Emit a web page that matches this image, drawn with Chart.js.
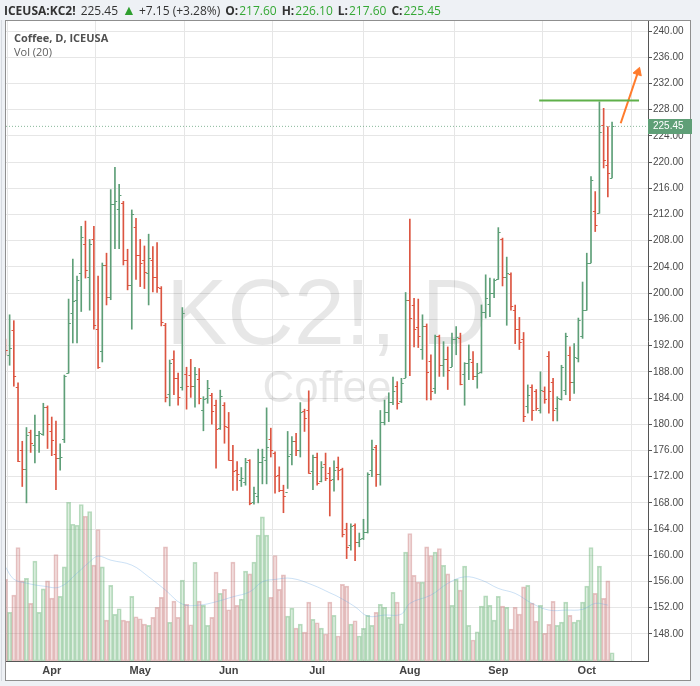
<!DOCTYPE html>
<html><head><meta charset="utf-8">
<script src="https://cdn.jsdelivr.net/npm/chart.js@4.4.1/dist/chart.umd.min.js"></script>
<style>
html,body{margin:0;padding:0;background:#eef1f5;}
canvas{display:block;}
</style></head><body>
<canvas id="c" width="700" height="686"></canvas>
<script>
// ---- data (daily bars, index 0 = Mar 17) ----
const monthIdx = [11, 32, 53, 74, 96, 117, 138];
const monthLabels = ['Apr','May','Jun','Jul','Aug','Sep','Oct'];
const yTicks = [148,152,156,160,164,168,172,176,180,184,188,192,196,200,204,208,212,216,220,224,228,232,236,240];

const opens = [192.0,190.6,194.4,185.7,176.0,173.1,178.8,176.8,178.3,178.5, 182.7,179.0,175.4,174.8,177.8,187.8,197.0,199.0,203.0,207.5, 202.4,208.2,194.5,191.2,204.3,199.4,213.6,212.9,213.8,205.1, 201.2,210.1,205.8,205.1,203.0,205.1,202.5,200.8,195.2,184.6, 190.0,187.0,185.7,187.6,187.5,185.8,186.9,182.1,184.0,184.5, 183.0,179.5,183.0,179.6,174.5,173.0,171.5,171.2,174.5,168.2, 169.1,174.3,174.5,177.8,175.6,172.3,170.0,169.6,175.4,177.5, 176.0,182.0,182.1,172.8,175.0,171.4,174.0,172.5,171.6,173.5, 173.1,164.0,161.6,164.6,162.0,162.6,163.6,173.0,176.6,172.4, 180.4,181.9,183.4,185.8,183.6,187.1,198.9,198.2,194.9,191.5, 195.0,189.7,185.5,193.4,189.0,190.0,188.8,193.0,193.2,187.7, 189.3,189.5,187.4,188.0,197.2,198.3,200.0,202.1,208.2,202.5, 202.9,197.4,194.6,193.0,182.8,185.7,185.0,182.2,185.0,190.4, 186.5,182.5,183.8,185.2,190.6,186.5,190.1,193.4,197.5,204.6, 212.6,212.3,225.7,219.6,217.6];
const highs = [193.0,196.7,195.8,186.3,177.4,179.5,179.1,181.4,178.9,183.2, 182.8,181.1,180.5,177.0,187.5,199.1,205.2,202.6,210.2,211.0, 208.2,210.2,202.6,204.6,206.1,215.8,219.2,216.6,214.0,206.7, 212.7,211.4,208.2,207.2,209.0,207.1,207.7,201.0,195.4,189.8, 191.2,187.8,197.8,188.7,189.9,188.7,188.5,184.2,186.7,184.7, 183.7,185.2,183.3,181.8,176.8,174.3,173.4,174.8,174.6,170.4, 176.2,176.2,182.5,179.4,175.8,173.5,170.7,178.9,178.1,178.6, 183.3,182.3,185.1,175.3,175.6,174.3,175.6,173.4,174.4,175.0, 173.3,164.9,164.8,164.8,163.4,165.5,172.6,177.6,176.8,182.1, 183.7,184.8,187.2,186.5,187.0,200.1,211.3,199.2,199.1,196.7, 195.3,190.6,193.6,193.6,192.6,191.8,193.9,194.9,193.9,189.4, 192.1,191.1,189.3,198.2,202.8,202.3,202.2,210.0,208.4,205.5, 203.1,198.2,196.3,194.0,186.0,186.0,185.3,188.0,185.7,191.1, 187.0,184.2,189.0,193.9,191.8,192.3,196.2,201.7,206.1,217.8, 215.5,229.2,228.2,225.4,226.1];
const lows = [190.5,189.0,185.8,174.3,170.5,168.0,175.7,174.1,175.7,178.3, 176.3,175.2,170.0,173.0,177.2,187.8,192.4,192.4,197.2,202.3, 197.4,194.5,188.5,189.5,198.2,199.0,206.8,206.8,204.3,200.5, 194.5,202.1,201.0,200.7,198.2,200.2,200.1,195.0,183.4,182.8, 184.5,182.9,185.2,182.3,184.1,182.6,183.1,179.0,183.2,180.0, 173.3,179.2,177.1,174.5,169.9,169.9,170.5,170.7,167.7,167.8, 168.0,170.9,170.9,175.0,169.5,169.7,166.5,170.2,173.8,175.2, 175.0,178.9,172.5,170.0,170.7,171.2,171.4,166.0,169.8,171.5, 162.8,159.5,160.8,159.2,161.3,162.4,163.4,172.0,170.5,170.7, 179.9,180.4,183.0,182.3,183.3,187.1,187.4,191.8,191.7,189.9, 183.7,183.7,184.7,187.3,187.3,185.3,188.8,190.6,186.0,182.9, 186.8,186.8,185.5,187.8,196.2,196.4,199.3,202.1,201.1,195.1, 197.4,192.3,191.4,180.4,181.7,180.6,182.1,181.7,183.2,181.7, 180.5,180.5,183.7,184.5,183.6,184.7,189.5,193.1,197.4,204.6, 209.4,212.2,219.1,214.7,217.6];
const closes = [191.4,191.6,187.4,174.4,173.1,178.3,177.2,178.3,178.6,182.7, 180.0,177.6,174.8,175.0,187.3,195.5,198.8,202.0,208.5,203.6, 207.5,195.2,188.8,204.3,199.4,213.6,214.0,215.0,205.1,201.2, 212.1,205.8,204.6,203.3,205.3,202.5,201.0,195.6,184.1,189.3, 187.0,184.2,196.9,185.8,185.8,187.7,184.0,183.8,185.5,182.0, 179.2,184.3,179.8,174.6,172.9,172.4,171.8,174.3,168.0,169.5, 174.3,175.0,176.5,176.0,172.1,170.0,169.1,175.2,177.5,176.0, 181.8,181.0,172.6,175.0,171.1,173.5,171.8,171.5,173.0,173.0, 163.2,161.3,164.4,162.0,162.5,163.6,172.4,176.2,172.4,180.4, 181.9,183.4,185.0,183.2,186.3,198.9,196.2,194.6,193.5,195.0, 188.0,185.1,193.4,189.0,190.0,188.3,193.0,193.3,186.2,189.3, 190.0,187.4,187.8,197.2,199.3,200.0,202.0,209.4,202.4,203.0, 198.0,194.6,192.6,181.3,184.5,182.2,182.5,185.2,183.8,185.0, 182.2,184.0,188.7,193.4,186.5,190.3,195.9,197.5,204.6,217.3, 210.4,224.6,220.3,218.3,225.45];
const volumes = [8170,4870,6600,11370,8030,8270,5770,10000,4870,7230, 8030,6300,10670,6470,9430,15900,13700,13600,15670,14500, 14970,9600,13170,9430,4100,7570,4670,5230,4100,4000, 6470,4430,4230,3700,3570,4370,5370,6370,11430,3870, 6000,4370,8100,5670,3630,9870,6000,5570,3570,4370, 8900,6770,7170,5130,9900,5570,6200,9000,8730,9900, 12600,14430,12600,6370,10570,7170,8630,4500,5300,3300, 3700,2900,5900,4170,3830,3300,2700,5900,4570,2500, 7670,7500,3700,4030,2500,3270,4570,3570,4870,5670, 5370,4370,6870,5900,3730,10900,12770,8570,7900,7900, 11430,10570,10900,11270,9570,8730,5570,8170,7100,9500, 3570,2100,2930,5500,6530,5570,4100,6470,5500,5370, 3200,5370,4700,7430,7570,5800,4000,5570,2770,3670, 5970,3570,3900,5900,4570,3900,4100,5900,7500,11370, 6770,9500,6270,8030,830];
// Vol (20) moving average at these bar indices
const maIdx  = [0,2,5,9,13,17,20,22,25,30,34,38,42,46,50,54,58,61,64,68,73,77,79,83,86,90,94,96,101,105,109,113,117,121,125,129,133,137,140,143];
const maVals = [9430,8200,7800,7500,7430,8800,9930,10500,10100,9600,8430,7100,5700,5600,5930,6430,6930,7930,8170,8270,7600,6830,6430,5430,4500,4600,4700,5770,6600,7770,8430,8100,7270,6770,5770,5100,5100,5170,5770,5600];
// drawn annotations
const resistanceX = [126.7, 150.4];
const resistanceY = 229.4;
const arrowX = [146.05, 150.15];
const arrowY = [225.92, 233.73];

const UP = '#5e9f78', DOWN = '#dc5541';
const idx = opens.map((_, i) => i);
const isUp = idx.map(i => closes[i] >= opens[i]);
const lastPrice = closes[closes.length - 1];
const X_MIN = 0.142, X_MAX = 152.53, Y_MIN = 143.875, Y_MAX = 241.526;

Chart.defaults.font.family = '"Liberation Sans", Arial, sans-serif';

const ohlcTicks = {
  id: 'ohlcTicks',
  beforeDatasetsDraw(chart) {
    const {ctx, chartArea: a} = chart;
    ctx.save();
    ctx.fillStyle = 'rgba(0,0,0,0.095)';
    ctx.textAlign = 'center';
    ctx.textBaseline = 'alphabetic';
    ctx.font = '92px "Liberation Sans", Arial, sans-serif';
    ctx.fillText('KC2!, D', (a.left + a.right) / 2, 344);
    ctx.font = '44px "Liberation Sans", Arial, sans-serif';
    ctx.fillText('Coffee', (a.left + a.right) / 2, 402);
    ctx.restore();
  },
  afterDatasetsDraw(chart) {
    const {ctx, chartArea: a, scales: {x, y}} = chart;
    ctx.save();
    ctx.beginPath(); ctx.rect(a.left, a.top, a.right - a.left, a.bottom - a.top); ctx.clip();
    ctx.lineWidth = 1;
    idx.forEach(i => {
      const px = x.getPixelForValue(i);
      const yo = Math.round(y.getPixelForValue(opens[i])) + 0.5;
      const yc = Math.round(y.getPixelForValue(closes[i])) + 0.5;
      ctx.strokeStyle = isUp[i] ? UP : DOWN;
      ctx.beginPath();
      ctx.moveTo(px - 2.3, yo); ctx.lineTo(px, yo);
      ctx.moveTo(px, yc); ctx.lineTo(px + 2.3, yc);
      ctx.stroke();
    });
    ctx.restore();
  }
};

const frame = {
  id: 'frame',
  beforeDraw(chart) {
    const ctx = chart.ctx;
    ctx.save();
    ctx.fillStyle = '#eef1f5'; ctx.fillRect(0, 0, 700, 686);
    ctx.fillStyle = '#ffffff'; ctx.fillRect(5, 20, 686, 661);
    ctx.restore();
  },
  afterDraw(chart) {
    const {ctx, scales: {y}} = chart;
    ctx.save();
    // frame
    ctx.strokeStyle = '#8f8f8f'; ctx.lineWidth = 1;
    ctx.strokeRect(5.5, 20.5, 685, 660);
    ctx.strokeStyle = '#d6dae0';
    ctx.beginPath(); ctx.moveTo(1.5, 20); ctx.lineTo(1.5, 681); ctx.stroke();
    // last price label
    const yy = Math.round(y.getPixelForValue(lastPrice));
    ctx.fillStyle = '#5f9f77';
    ctx.fillRect(648, yy - 7, 44, 15);
    ctx.fillStyle = '#ffffff';
    ctx.font = '10px "Liberation Sans", Arial, sans-serif';
    ctx.textBaseline = 'middle'; ctx.textAlign = 'left';
    ctx.fillText(lastPrice.toFixed(2), 653, yy + 0.5);
    // legend
    ctx.textBaseline = 'alphabetic';
    ctx.fillStyle = '#505050';
    ctx.font = 'bold 11px "Open Sans", sans-serif';
    ctx.fillText('Coffee, D, ICEUSA', 14, 42);
    ctx.font = '11px "Open Sans", sans-serif';
    ctx.fillStyle = '#606060';
    ctx.fillText('Vol (20)', 14, 56);
    // header
    const chg = lastPrice - closes[closes.length - 2];
    const pct = chg / closes[closes.length - 2] * 100;
    const parts = [
      ['ICEUSA:KC2!', 'bold', '#333333', 5, 12],
      [lastPrice.toFixed(2), '', '#333333', 4, 12],
      ['\u25B2', '', '#2e9e2e', 3, 14],
      ['+' + chg.toFixed(2) + ' (+' + pct.toFixed(2) + '%)', '', '#333333', 5, 12],
      ['O:', 'bold', '#333333', 1, 12], [opens[opens.length-1].toFixed(2), '', '#35a835', 5, 12],
      ['H:', 'bold', '#333333', 1, 12], [highs[highs.length-1].toFixed(2), '', '#35a835', 5, 12],
      ['L:', 'bold', '#333333', 1, 12], [lows[lows.length-1].toFixed(2), '', '#35a835', 5, 12],
      ['C:', 'bold', '#333333', 1, 12], [lastPrice.toFixed(2), '', '#35a835', 5, 12]
    ];
    let hx = 4;
    parts.forEach(([t, w, c, gap, fs]) => {
      ctx.font = (w ? w + ' ' : '') + fs + 'px "Open Sans", sans-serif';
      ctx.fillStyle = c;
      ctx.fillText(t, hx, 15);
      hx += ctx.measureText(t).width + gap;
    });
    ctx.restore();
  }
};

new Chart(document.getElementById('c'), {
  data: {
    datasets: [
      {
        type: 'bar', label: 'HL', order: 1,
        data: idx.map(i => ({x: i, y: [lows[i], highs[i]]})),
        backgroundColor: idx.map(i => isUp[i] ? UP : DOWN),
        borderWidth: 0, barThickness: 1, grouped: false,
        xAxisID: 'x', yAxisID: 'y'
      },
      {
        type: 'line', label: 'Vol MA', order: 2,
        data: maIdx.map((v, k) => ({x: v, y: maVals[k]})),
        borderColor: 'rgba(110,170,225,0.35)', borderWidth: 1, pointRadius: 0,
        tension: 0.4, xAxisID: 'x', yAxisID: 'yv'
      },
      {
        type: 'bar', label: 'Volume', order: 3,
        data: idx.map(i => ({x: i, y: volumes[i]})),
        backgroundColor: idx.map(i => isUp[i] ? 'rgba(107,180,120,0.22)' : 'rgba(200,120,120,0.22)'),
        borderColor: idx.map(i => isUp[i] ? 'rgba(107,180,120,0.45)' : 'rgba(200,120,120,0.42)'),
        borderWidth: 1, borderSkipped: false,
        categoryPercentage: 1, barPercentage: 1, grouped: false,
        xAxisID: 'x', yAxisID: 'yv'
      },
      {
        type: 'line', label: 'last', order: 0,
        data: [{x: X_MIN, y: lastPrice}, {x: X_MAX, y: lastPrice}],
        borderColor: 'rgba(95,159,119,0.75)', borderWidth: 1, borderDash: [1, 2],
        pointRadius: 0, xAxisID: 'x', yAxisID: 'y'
      },
      {
        type: 'line', label: 'resistance', order: 0,
        data: resistanceX.map(v => ({x: v, y: resistanceY})),
        borderColor: '#5fb04a', borderWidth: 2, pointRadius: 0,
        xAxisID: 'x', yAxisID: 'y'
      },
      {
        type: 'line', label: 'arrow', order: 0,
        data: arrowX.map((v, k) => ({x: v, y: arrowY[k]})),
        borderColor: '#ff7b2c', backgroundColor: '#ff7b2c', borderWidth: 2,
        pointStyle: 'triangle', pointRadius: [0, 5], pointRotation: 18.7,
        pointBorderWidth: 1, xAxisID: 'x', yAxisID: 'y'
      }
    ]
  },
  options: {
    responsive: false, animation: false, devicePixelRatio: 1,
    layout: {padding: {left: 6, top: 21, right: 0, bottom: 0}},
    plugins: {legend: {display: false}, tooltip: {enabled: false}},
    scales: {
      x: {
        type: 'linear', min: X_MIN, max: X_MAX, offset: false,
        afterBuildTicks: s => { s.ticks = monthIdx.map(v => ({value: v})); },
        afterFit: s => { s.height = 25; },
        ticks: {
          autoSkip: false, maxRotation: 0, padding: 3,
          callback: v => monthLabels[monthIdx.indexOf(v)],
          font: {size: 11, weight: 'bold'}, color: '#444444'
        },
        grid: {color: '#e6e6e6', drawTicks: false},
        border: {color: '#555555'}
      },
      y: {
        type: 'linear', position: 'right', min: Y_MIN, max: Y_MAX,
        afterBuildTicks: s => { s.ticks = yTicks.map(v => ({value: v})); },
        afterFit: s => { s.width = 52; },
        ticks: {
          autoSkip: false, padding: 1, callback: v => Number(v).toFixed(2),
          font: {size: 10}, color: '#4a4a4a'
        },
        grid: {color: '#e6e6e6', tickLength: 4, tickColor: '#555555'},
        border: {color: '#555555'}
      },
      yv: {type: 'linear', display: false, min: 0, max: 64100}
    }
  },
  plugins: [frame, ohlcTicks]
});
</script>
</body></html>
